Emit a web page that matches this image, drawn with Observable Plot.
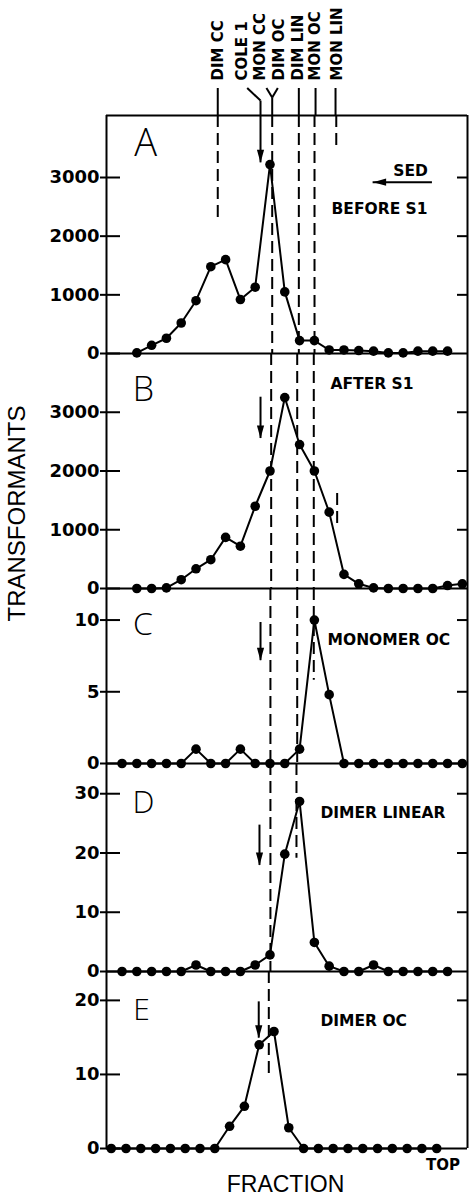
<!DOCTYPE html>
<html><head><meta charset="utf-8">
<script src="https://cdn.jsdelivr.net/npm/d3@7"></script>
<script src="https://cdn.jsdelivr.net/npm/@observablehq/plot@0.6"></script>
<style>
body{margin:0;background:#fff;}
#chart{width:469px;line-height:0;}
#chart svg{display:block;}
</style></head><body><div id="chart"></div>
<script>
// ---------- DATA ----------
const fractionsA = [2,3,4,5,6,7,8,9,10,11,12,13,14,15,16,17,18,19,20,21,22,23];
const valuesA    = [10,140,260,520,900,1480,1600,920,1130,3220,1050,220,220,60,60,50,40,10,10,40,40,40];
const fractionsB = [2,3,4,5,6,7,8,9,10,11,12,13,14,15,16,17,18,19,20,21,22,23,24];
const valuesB    = [0,0,10,150,335,490,870,720,1400,2000,3250,2450,2000,1300,240,80,10,0,0,0,0,50,80];
const fractionsC = [1,2,3,4,5,6,7,8,9,10,11,12,13,14,15,16,17,18,19,20,21,22,23,24];
const valuesC    = [0,0,0,0,0,1,0,0,1,0,0,0,1,10,4.8,0,0,0,0,0,0,0,0,0];
const fractionsD = [1,2,3,4,5,6,7,8,9,10,11,12,13,14,15,16,17,18,19,20,21,22,23];
const valuesD    = [0,0,0,0,0,1.1,0,0,0,1.1,2.8,19.8,28.7,4.9,0.9,0,0,1.1,0,0,0,0,0];
const fractionsE = [1,2,3,4,5,6,7,8,9,10,11,12,13,14,15,16,17,18,19,20,21,22,23];
const valuesE    = [0,0,0,0,0,0,0,0,3,5.7,14,15.8,2.8,0,0,0,0,0,0,0,0,0,0];

const ticksAB = [0,1000,2000,3000];
const ticksC  = [0,5,10];
const ticksD  = [0,10,20,30];
const ticksE  = [0,10,20];

const panelLetters = ["A","B","C","D","E"];
const panelTitles  = ["BEFORE S1","AFTER S1","MONOMER OC","DIMER LINEAR","DIMER OC"];

// sedimentation markers (fraction units)
const markerNames   = ["DIM CC","COLE 1","MON CC","DIM OC","DIM LIN","MON OC","MON LIN"];
const markerLabelAt = [7.52, 9.14, 10.36, 11.64, 12.93, 14.08, 15.56];
const markerStemAt  = [7.47, 12.95, 14.08, 15.43];

// ---------- LAYOUT ----------
const W = 469, ML = 106, MR = 2;
const xDom  = [-0.05, 24.35];
const xDomE = [0.68, 25.08];
const BOLD = "DejaVu Sans, Verdana, sans-serif";
const THIN = "Liberation Sans, Arial, sans-serif";
const LIGHT = "Open Sans, Lato, sans-serif";
const inner = W - ML - MR;

const arrowHead = {draw(ctx) { ctx.moveTo(-3.6,-13); ctx.lineTo(3.6,-13); ctx.lineTo(0,0); ctx.closePath(); }};

function panel(o) {
  const xd = o.xDomain || xDom;
  const data = o.fr.map((f,i) => ({f, v: o.val[i]}));
  const mb = o.mb || 0;
  return Plot.plot({
    width: W, height: o.h + mb,
    marginLeft: ML, marginRight: MR, marginTop: 0, marginBottom: mb,
    x: {domain: xd, axis: null},
    y: {domain: [0, o.yMax], axis: null},
    style: {overflow: "visible", fontFamily: BOLD, color: "black", background: "transparent"},
    marks: [
      Plot.ruleX(xd, {strokeWidth: 2}),
      Plot.ruleY([0], {strokeWidth: 2}),
      o.top ? Plot.ruleY([o.yMax], {strokeWidth: 2}) : null,
      Plot.ruleY(o.ticks, {insetLeft: -6, insetRight: inner - 14, strokeWidth: 2}),
      Plot.ruleY(o.ticks.filter(t => t > 0), {insetLeft: inner - 10, strokeWidth: 2}),
      Plot.axisY(o.ticks, {anchor: "left", tickSize: 0, tickPadding: 7, label: null, fontSize: 18, fontWeight: "bold", fontFamily: BOLD, tickFormat: d => String(d)}),
      Plot.ruleX(o.guides, {x: "x", y1: "y1", y2: "y2", strokeWidth: 2, strokeDasharray: "12,6"}),
      Plot.ruleX([o.arrow], {x: "x", y1: "y1", y2: "y2", strokeWidth: 2}),
      Plot.dot([o.arrow], {x: "x", y: "y2", symbol: arrowHead, fill: "black", stroke: "none"}),
      Plot.line(data, {x: "f", y: "v", strokeWidth: 2, stroke: "black"}),
      Plot.dot(data, {x: "f", y: "v", r: 4.8, fill: "black", stroke: "none"}),
      Plot.text([o.letter], {x: o.letterPos[0], y: o.letterPos[1], text: d => d, fontSize: o.letterSize, fontWeight: 300, fontFamily: LIGHT}),
      Plot.text([o.title], {x: o.titlePos[0], y: o.titlePos[1], text: d => d, textAnchor: "start", fontSize: 15.5, fontWeight: "bold"}),
      ...(o.extra || [])
    ]
  });
}

// header with marker labels
const markerData = markerNames.map((n,i) => ({n, x: markerLabelAt[i]}));
const header = Plot.plot({
  width: W, height: 115, marginLeft: ML, marginRight: MR, marginTop: 0, marginBottom: 0,
  x: {domain: xDom, axis: null},
  y: {domain: [0, 1], axis: null},
  style: {overflow: "visible", fontFamily: BOLD, color: "black", background: "transparent"},
  marks: [
    Plot.text(markerData, {x: "x", y: 0.304, text: "n", rotate: -90, textAnchor: "start", fontSize: 15, fontWeight: "bold"}),
    Plot.ruleX(markerStemAt, {y1: 0.235, y2: 0, strokeWidth: 2}),
    Plot.link([
      {x1: 9.46, y1: 0.24, x2: 10.36, y2: 0.13},
      {x1: 10.36, y1: 0.13, x2: 10.36, y2: 0},
      {x1: 10.76, y1: 0.24, x2: 11.15, y2: 0.157},
      {x1: 11.53, y1: 0.24, x2: 11.15, y2: 0.157},
      {x1: 11.15, y1: 0.157, x2: 11.15, y2: 0}
    ], {x1: "x1", y1: "y1", x2: "x2", y2: "y2", strokeWidth: 2})
  ]
});

const yA = 4057, yB = 4000, yC = 12.2, yD = 35.1, yE = 23.9;

const pA = panel({
  fr: fractionsA, val: valuesA, yMax: yA, h: 238, ticks: ticksAB, top: true,
  letter: panelLetters[0], letterPos: [2.59, 3571], letterSize: 38,
  title: panelTitles[0], titlePos: [15.16, 2455],
  guides: [{x: 7.47, y1: yA, y2: 2267}, {x: 11.15, y1: yA, y2: 0}, {x: 12.95, y1: yA, y2: 0}, {x: 14.01, y1: yA, y2: 0}, {x: 15.48, y1: yA, y2: 3461}],
  arrow: {x: 10.36, y1: yA, y2: 3250},
  extra: [
    Plot.text(["SED"], {x: 20.5, y: 3102, text: d => d, fontSize: 15.5, fontWeight: "bold"}),
    Plot.ruleY([2920], {x1: 17.97, x2: 21.98, strokeWidth: 2}),
    Plot.dot([{x: 17.97, y: 2920}], {x: "x", y: "y", symbol: arrowHead, rotate: 90, fill: "black", stroke: "none"})
  ]
});
const pB = panel({
  fr: fractionsB, val: valuesB, yMax: yB, h: 235, ticks: ticksAB,
  letter: panelLetters[1], letterPos: [2.45, 3370], letterSize: 34,
  title: panelTitles[1], titlePos: [15.09, 3472],
  guides: [{x: 11.08, y1: yB, y2: 0}, {x: 12.84, y1: yB, y2: 0}, {x: 13.96, y1: yB, y2: 0}, {x: 15.54, y1: 1617, y2: 1038}],
  arrow: {x: 10.36, y1: 3256, y2: 2553}
});
const pC = panel({
  fr: fractionsC, val: valuesC, yMax: yC, h: 175, ticks: ticksC,
  letter: panelLetters[2], letterPos: [2.42, 9.67], letterSize: 32,
  title: panelTitles[2], titlePos: [14.89, 8.63],
  guides: [{x: 11.03, y1: yC, y2: 0}, {x: 12.84, y1: yC, y2: 0}, {x: 13.96, y1: yC, y2: 5.8}],
  arrow: {x: 10.36, y1: 9.83, y2: 7.17},
  extra: [
    Plot.text(["TRANSFORMANTS"], {frameAnchor: "left", dx: -89, y: 9.9, text: d => d, rotate: -90, fontSize: 24, fontFamily: THIN, fontWeight: "normal"})
  ]
});
const pD = panel({
  fr: fractionsD, val: valuesD, yMax: yD, h: 208, ticks: ticksD,
  letter: panelLetters[3], letterPos: [2.45, 28.5], letterSize: 31,
  title: panelTitles[3], titlePos: [14.41, 26.8],
  guides: [{x: 11.03, y1: yD, y2: 0}, {x: 12.79, y1: yD, y2: 19.1}],
  arrow: {x: 10.29, y1: 24.7, y2: 17.9}
});
const pE = panel({
  fr: fractionsE, val: valuesE, yMax: yE, h: 177, mb: 50, ticks: ticksE, xDomain: xDomE,
  letter: panelLetters[4], letterPos: [3.05, 18.7], letterSize: 30,
  title: panelTitles[4], titlePos: [15.14, 17.2],
  guides: [{x: 11.65, y1: yE, y2: 9.4}],
  arrow: {x: 10.97, y1: 19.8, y2: 14.9},
  extra: [
    Plot.text(["TOP"], {x: 23.42, y: -2.27, text: d => d, fontSize: 15, fontWeight: "bold"}),
    Plot.text(["FRACTION"], {x: 12.78, y: -4.9, text: d => d, fontSize: 23, fontFamily: THIN, fontWeight: "normal"})
  ]
});

const root = document.getElementById("chart");
[header, pA, pB, pC, pD, pE].forEach(p => root.appendChild(p));
</script>
</body></html>
